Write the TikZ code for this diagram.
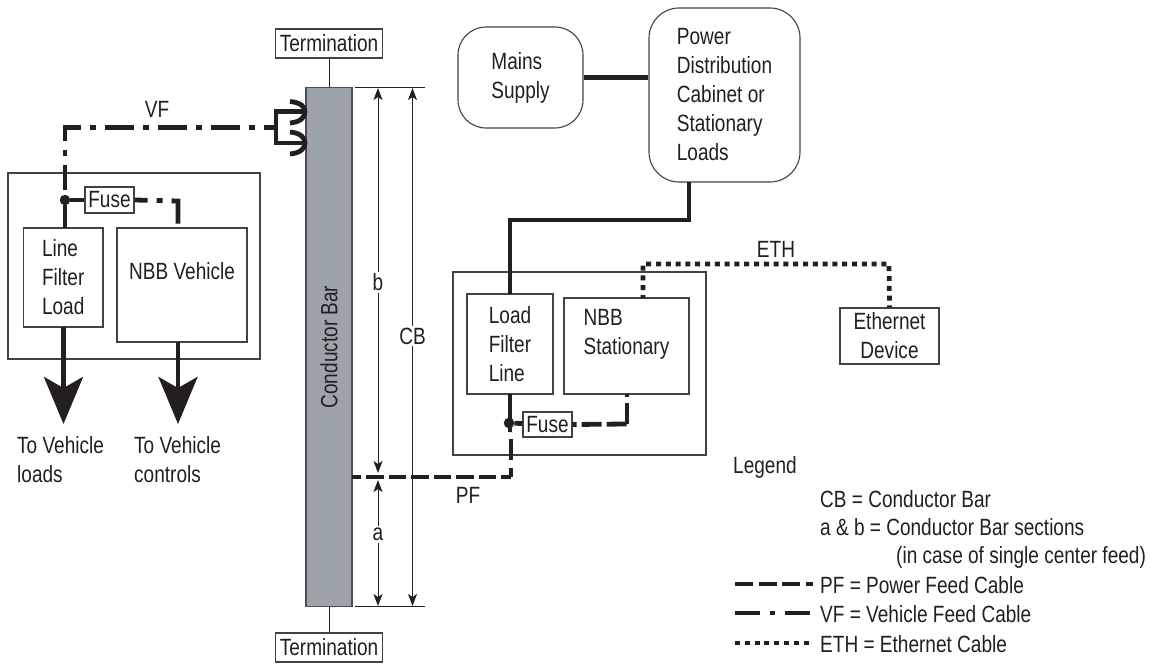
\documentclass[tikz,border=0pt]{standalone}
\usepackage{fontspec}
\setmainfont[FakeStretch=0.81]{Liberation Sans}
\usetikzlibrary{arrows.meta}
\definecolor{inkdark}{HTML}{231F20}
\definecolor{bargray}{HTML}{9DA3AB}
\tikzset{
  every node/.style={font=\fontsize{23.5}{29}\selectfont,text=inkdark,inner sep=0pt,align=left},
  plainbox/.style={draw=inkdark!85,line width=1.1pt,fill=white,inner sep=0pt},
  roundbox/.style={plainbox,rounded corners=28pt},
  outerbox/.style={draw=inkdark!85,line width=1.1pt},
  barbox/.style={draw=inkdark!80,line width=1.5pt,fill=bargray},
  cable/.style={draw=inkdark,line width=4.8pt},
  pfcable/.style={cable,dash pattern=on 17.5pt off 5pt},
  vfcable/.style={cable,dash pattern=on 29pt off 9pt on 6pt off 9pt},
  ethcable/.style={cable,dash pattern=on 5pt off 4.8pt},
  thinline/.style={draw=inkdark,line width=1pt},
  dimline/.style={thinline,{Stealth[length=12pt,width=9pt,inset=3pt]}-{Stealth[length=12pt,width=9pt,inset=3pt]}},
  bigarrow/.style={draw=inkdark,line width=4.5pt,-{Stealth[length=47pt,width=39pt,inset=11pt]}},
  junction/.style={circle,fill=inkdark,minimum size=10.5pt},
  dimlabel/.style={fill=white,inner sep=2pt}
}
\begin{document}
\begin{tikzpicture}[x=1pt,y=-1pt]
    \useasboundingbox (0,0) rectangle (1151,666);
    \node[outerbox,minimum width=252pt,minimum height=186pt] (vehiclebox) at (134,266) {};
    \node[outerbox,minimum width=253pt,minimum height=183pt] (stationbox) at (579.5,363.5) {};
    \node[barbox,minimum width=46pt,minimum height=518.5pt] (bar) at (329,347) {};
    \node[rotate=90] (barlabel) at (329,347) {Conductor Bar};
    \node[plainbox,minimum width=107pt,minimum height=29pt,align=center] (termtop) at (329,43.5) {Termination};
    \node[plainbox,minimum width=107pt,minimum height=29pt,align=center] (termbottom) at (329,647.5) {Termination};
    \draw[thinline] (termtop) -- (bar);
    \draw[thinline] (termbottom) -- (bar);
    \node[plainbox,minimum width=79.5pt,minimum height=99pt] (linefilter) at (63.25,277.5) {Line\\Filter\\Load};
    \node[plainbox,minimum width=130pt,minimum height=114pt] (nbbvehicle) at (182,285) {NBB Vehicle\\\mbox{}};
    \node[plainbox,minimum width=49pt,minimum height=26pt,align=center] (fuseleft) at (109.5,200) {Fuse};
    \node[junction] (jleft) at (65,200) {};
    \node[plainbox,minimum width=86pt,minimum height=100pt] (loadfilter) at (510,344) {Load\\Filter\\Line};
    \node[plainbox,minimum width=125pt,minimum height=96pt] (nbbstation) at (626.5,346) {NBB\\Stationary\\\mbox{}};
    \node[plainbox,minimum width=49pt,minimum height=25pt,align=center] (fuseright) at (547.5,424.5) {Fuse};
    \node[junction] (jright) at (509,423) {};
    \node[roundbox,minimum width=125pt,minimum height=101pt] (mains) at (520.5,77.5) {Mains\\Supply};
    \node[roundbox,minimum width=151pt,minimum height=174pt,rounded corners=30pt] (cabinet) at (724.5,95) {Power\\Distribution\\Cabinet or\\Stationary\\Loads};
    \node[plainbox,minimum width=99pt,minimum height=56pt,align=center] (ethdevice) at (889.5,336) {Ethernet\\Device};
    \coordinate (vfstart) at (65,190);
    \coordinate (vfcorner) at (65,127.5);
    \coordinate (vfend) at (276,127.5);
    \coordinate (contacttop) at (305,111.5);
    \coordinate (contactbot) at (305,143);
    \draw[vfcable,dash phase=4pt] (vfstart) -- (vfcorner) -- (vfend);
    \draw[cable] (contacttop) -- (276,111.5) -- (276,143) -- (contactbot);
    \draw[cable] (290,101.5) .. controls (301,102.5) and (305,107) .. (contacttop) .. controls (305,117) and (301,122) .. (290,123);
    \draw[cable] (290,132) .. controls (301,133) and (305,138) .. (contactbot) .. controls (305,148) and (301,153) .. (290,154);
    \draw[cable] (jleft) -- (65,228);
    \draw[cable] (jleft) -- (fuseleft);
    \draw[vfcable,dash phase=16pt] (fuseleft.east) -- (178,201) -- (178,228);
    \coordinate (tipleft) at (63.5,424);
    \coordinate (tipright) at (178,424);
    \draw[bigarrow] (63.5,327) -- (tipleft);
    \draw[bigarrow] (178,342) -- (tipright);
    \coordinate (pfcorner) at (511,477);
    \coordinate (pftop) at (511,432);
    \draw[pfcable,dash phase=8.5pt] (352,477) -- (pfcorner);
    \draw[cable,dash pattern=on 9pt off 8pt on 21pt off 7pt] (pfcorner) -- (pftop);
    \draw[cable] (510,394) -- (510,432);
    \draw[cable] (jright) -- (fuseright);
    \coordinate (pfbend) at (627,424);
    \draw[cable,dash pattern=on 4pt off 5pt on 20pt off 5pt on 20pt] (fuseright.east) -- (pfbend);
    \draw[cable,dash pattern=on 21pt off 6pt on 9pt] (pfbend) -- (627,394);
    \draw[cable] (mains) -- (mains -| cabinet.west);
    \coordinate (feedbend) at (689,220);
    \draw[cable] (689,182) -- (feedbend) -- (510,220) -- (510,294);
    \coordinate (ethleft) at (643,264);
    \coordinate (ethright) at (889,264);
    \draw[ethcable,dash phase=2pt] (643,298) -- (ethleft) -- (ethright) -- (ethdevice.north);
    \draw[thinline] (355,88) -- (425,88);
    \draw[thinline] (355,606) -- (425,606);
    \draw[dimline] (378,88) -- node[dimlabel,pos=0.505] (labelb) {b} (378,473);
    \draw[dimline] (378,480) -- node[dimlabel,pos=0.43] (labela) {a} (378,606);
    \draw[dimline] (412.5,88) -- node[dimlabel,pos=0.479] (labelcb) {CB} (412.5,606);
    \node[anchor=base] (labelvf) at (157,118) {VF};
    \node[anchor=base] (labelpf) at (468,503) {PF};
    \node[anchor=base] (labeleth) at (776,257) {ETH};
    \node[anchor=base west] (loadsa) at (17,453) {To Vehicle};
    \node[anchor=base west] (loadsb) at (17,482) {loads};
    \node[anchor=base west] (ctrla) at (134,453) {To Vehicle};
    \node[anchor=base west] (ctrlb) at (134,482) {controls};
    \node[anchor=base west] (legend) at (733,473) {Legend};
    \node[anchor=base west] (legcb) at (820,507) {CB = Conductor Bar};
    \node[anchor=base west] (legab) at (820,535) {a \& b = Conductor Bar sections};
    \node[anchor=base west] (legcase) at (896,563) {(in case of single center feed)};
    \node[anchor=base west] (legpf) at (820,593) {PF = Power Feed Cable};
    \node[anchor=base west] (legvf) at (820,622) {VF = Vehicle Feed Cable};
    \node[anchor=base west] (legeth) at (820,652) {ETH = Ethernet Cable};
    \coordinate (pfkey) at (735,584);
    \coordinate (vfkey) at (735,613);
    \coordinate (ethkey) at (735,643);
    \draw[cable,dash pattern=on 18pt off 5.5pt] (pfkey) -- (813,584);
    \draw[cable,dash pattern=on 25pt off 10pt on 5pt off 10pt] (vfkey) -- (813,613);
    \draw[ethcable] (ethkey) -- (813,643);
\end{tikzpicture}
\end{document}
